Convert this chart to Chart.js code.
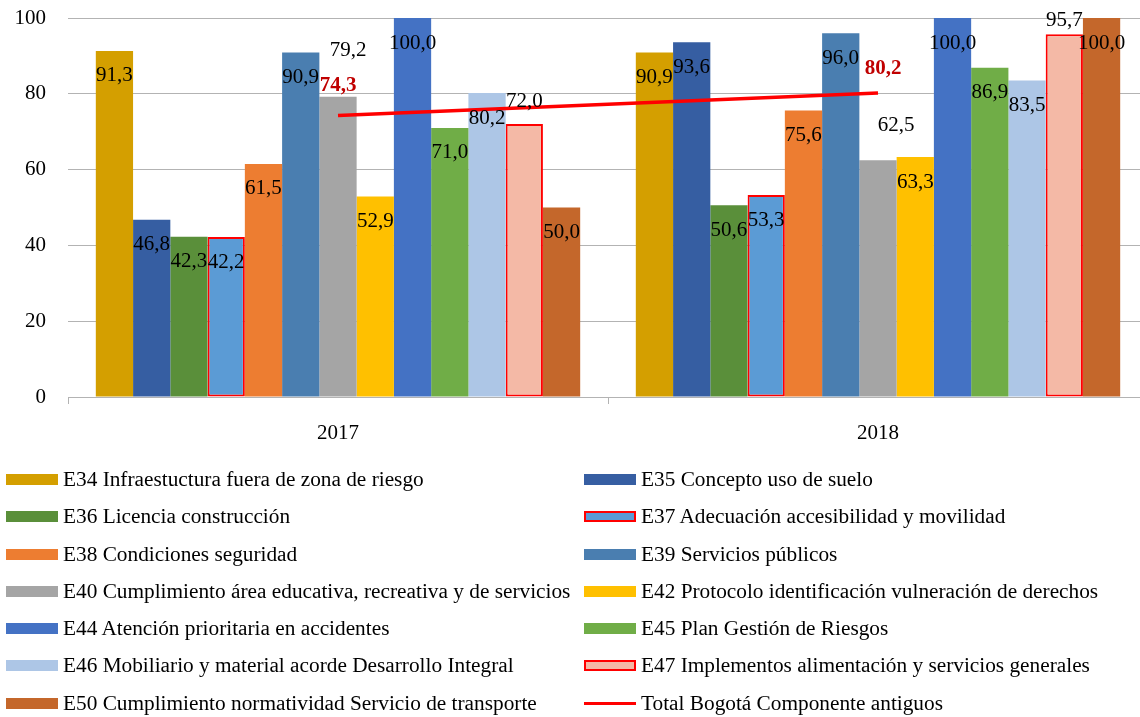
<!DOCTYPE html>
<html>
<head>
<meta charset="utf-8">
<script src="https://cdn.jsdelivr.net/npm/chart.js@4"></script>
<style>
    body { margin: 0; width: 1140px; height: 717px; overflow: hidden; background: #fff; font-family: "Liberation Serif", "Times New Roman", serif; }
    #wrap { position: absolute; left: 0; top: 0; width: 1148px; height: 455px; }
    #legend { position: absolute; left: 0; top: 0; width: 1140px; height: 717px; pointer-events: none; }
    .item { position: absolute; height: 24px; display: flex; align-items: center; font-size: 21.3px; color: #000; white-space: nowrap; }
    .sw { width: 52px; height: 11px; margin-right: 5px; box-sizing: border-box; }
</style>
</head>
<body>
<div id="wrap"><canvas id="chart" width="1148" height="455"></canvas></div>
<div id="legend"></div>
<script>
    // categorías (años)
    const years = ['2017', '2018'];

    // nombres de los estándares
    const standards = [
        'E34 Infraestuctura fuera de zona de riesgo',
        'E35 Concepto uso de suelo',
        'E36 Licencia construcción',
        'E37 Adecuación accesibilidad y movilidad',
        'E38 Condiciones seguridad',
        'E39 Servicios públicos',
        'E40 Cumplimiento área educativa, recreativa y de servicios',
        'E42 Protocolo identificación vulneración de derechos',
        'E44 Atención prioritaria en accidentes',
        'E45 Plan Gestión de Riesgos',
        'E46 Mobiliario y material acorde Desarrollo Integral',
        'E47 Implementos alimentación y servicios generales',
        'E50 Cumplimiento normatividad Servicio de transporte'
    ];

    // valores por año (mismo orden que standards)
    const values2017 = [91.3, 46.8, 42.3, 42.2, 61.5, 90.9, 79.2, 52.9, 100.0, 71.0, 80.2, 72.0, 50.0];
    const values2018 = [90.9, 93.6, 50.6, 53.3, 75.6, 96.0, 62.5, 63.3, 100.0, 86.9, 83.5, 95.7, 100.0];

    // línea total
    const totalLabel = 'Total Bogotá Componente antiguos';
    const totalBogota = [74.3, 80.2];

    // eje Y
    const yTicks = [0, 20, 40, 60, 80, 100];

    // colores de las barras
    const barColors = ['#D49F00', '#365EA2', '#5A8F3A', '#5B9BD5', '#ED7D31', '#4A7EB0', '#A5A5A5',
                       '#FFC000', '#4472C4', '#70AD47', '#ADC6E6', '#F4B9A6', '#C4672B'];
    const redBorder = [3, 11]; // E37, E47 con borde rojo

    // desplazamiento de etiquetas (px) respecto al tope de la barra; por defecto dentro del extremo
    const labelShift = {
        '0-6': [10, -46], '0-11': [0, -23],
        '1-6': [18, -35], '1-11': [0, -14]
    };
    const totalShift = [[0, -30], [5, -24]];

    const FONT = '"Liberation Serif", "Times New Roman", serif';
    const fmt = v => v.toFixed(1).replace('.', ',');

    const datasets = standards.map((name, i) => ({
        type: 'bar',
        label: name,
        data: [values2017[i], values2018[i]],
        backgroundColor: barColors[i],
        borderColor: redBorder.includes(i) ? '#FF0000' : barColors[i],
        borderWidth: redBorder.includes(i) ? 2 : 0,
        borderSkipped: false,
        categoryPercentage: 0.897,
        barPercentage: 1,
        order: 1
    }));
    datasets.push({
        type: 'line',
        label: totalLabel,
        data: totalBogota,
        borderColor: '#FF0000',
        borderWidth: 3.5,
        pointRadius: 0,
        fill: false,
        order: 0
    });

    // etiquetas de valores estilo Excel
    const valueLabels = {
        id: 'valueLabels',
        afterDatasetsDraw(chart) {
            const ctx = chart.ctx;
            ctx.save();
            ctx.textAlign = 'center';
            ctx.textBaseline = 'middle';
            chart.data.datasets.forEach((ds, di) => {
                const meta = chart.getDatasetMeta(di);
                meta.data.forEach((el, k) => {
                    let dx = 0, dy = 25;
                    if (ds.type === 'line') {
                        [dx, dy] = totalShift[k];
                        ctx.font = 'bold 21px ' + FONT;
                        ctx.fillStyle = '#C00000';
                    } else {
                        const s = labelShift[k + '-' + di];
                        if (s) [dx, dy] = s;
                        ctx.font = '21px ' + FONT;
                        ctx.fillStyle = '#000';
                    }
                    ctx.fillText(fmt(ds.data[k]), el.x + dx, el.y + dy);
                });
            });
            ctx.restore();
        }
    };

    const chart = new Chart(document.getElementById('chart'), {
        data: { labels: years, datasets: datasets },
        options: {
            responsive: false,
            animation: false,
            layout: { padding: { top: 18, left: 0, right: 0, bottom: 0 } },
            plugins: { legend: { display: false }, tooltip: { enabled: false } },
            scales: {
                x: {
                    grid: { drawOnChartArea: false, drawTicks: true, tickLength: 7, color: '#B3B3B3', offset: true },
                    border: { color: '#B3B3B3' },
                    ticks: { font: { family: FONT, size: 21 }, color: '#000', padding: 17 },
                    afterFit: s => { s.height = 58; }
                },
                y: {
                    min: 0, max: 100,
                    afterBuildTicks: s => { s.ticks = yTicks.map(v => ({ value: v })); },
                    grid: { color: '#B3B3B3', drawTicks: false },
                    border: { display: false },
                    ticks: { font: { family: FONT, size: 21 }, color: '#000', padding: 22 },
                    afterFit: s => { s.width = 68; s.paddingTop = 0; s.paddingBottom = 0; }
                }
            }
        },
        plugins: [valueLabels]
    });

    // leyenda en dos columnas
    const legend = document.getElementById('legend');
    const colX = [6, 584];
    chart.data.datasets.forEach((ds, i) => {
        const item = document.createElement('div');
        item.className = 'item';
        item.style.left = colX[i % 2] + 'px';
        item.style.top = (467.5 + Math.floor(i / 2) * 37.25) + 'px';
        const sw = document.createElement('div');
        sw.className = 'sw';
        if (ds.type === 'line') {
            sw.style.height = '3px';
            sw.style.background = ds.borderColor;
        } else {
            sw.style.background = ds.backgroundColor;
            if (ds.borderWidth) sw.style.border = '2px solid #FF0000';
        }
        item.appendChild(sw);
        item.appendChild(document.createTextNode(ds.label));
        legend.appendChild(item);
    });
</script>
</body>
</html>
